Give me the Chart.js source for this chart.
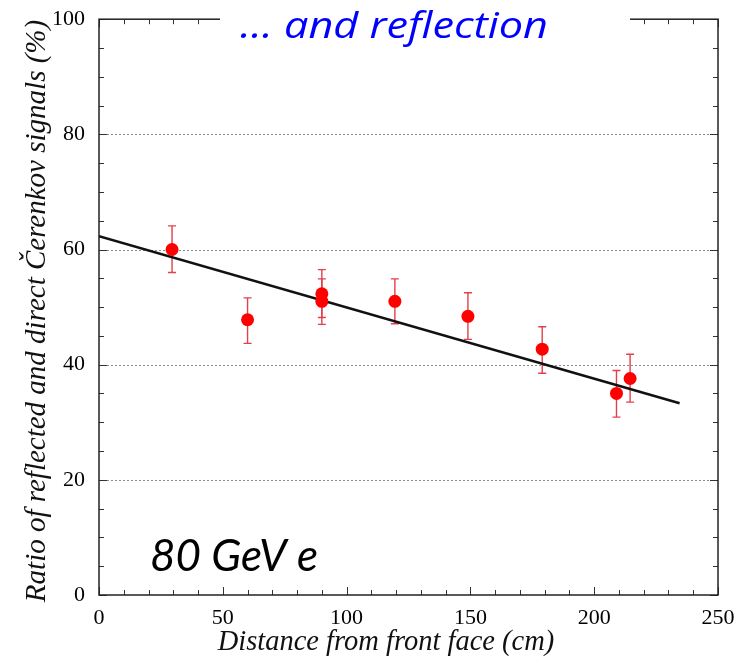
<!DOCTYPE html>
<html>
<head>
<meta charset="utf-8">
<script src="https://cdn.jsdelivr.net/npm/chart.js@4.4.1/dist/chart.umd.min.js"></script>
<style>
  html, body { margin: 0; padding: 0; background: #fff; }
  #wrap { position: relative; width: 742px; height: 663px; }
</style>
</head>
<body>
<div id="wrap"><canvas id="chart"></canvas></div>
<script>
// --- data ---
const distance = [29.5, 60, 90, 90, 119.5, 149, 179, 209, 214.5];
const ratio    = [60.0, 47.8, 52.3, 51.0, 51.0, 48.4, 42.7, 35.0, 37.6];
const errUp    = [4.1, 3.8, 4.2, 3.9, 3.9, 4.1, 3.9, 4.0, 4.2];
const errDown  = [4.0, 4.1, 4.1, 4.0, 3.9, 4.0, 4.2, 4.1, 4.1];
const fitX = [0, 234.5];
const fitY = [62.3, 33.3];
const xTicks = [0, 50, 100, 150, 200, 250];
const yTicks = [0, 20, 40, 60, 80, 100];

const SERIF = '"Liberation Serif", "DejaVu Serif", serif';
const SANS = '"Open Sans", Lato, sans-serif';

// frame, dotted grid, inward ticks, error bars
const framePlugin = {
    id: 'frame',
    beforeDatasetsDraw(chart) {
        const { ctx, chartArea: a, scales: { x, y } } = chart;
        ctx.save();

        // dotted horizontal grid
        ctx.strokeStyle = '#8a8a8a';
        ctx.lineWidth = 1;
        ctx.setLineDash([2, 2]);
        yTicks.forEach(v => {
            if (v === yTicks[0] || v === yTicks[yTicks.length - 1]) return;
            const py = Math.round(y.getPixelForValue(v)) + 0.5;
            ctx.beginPath();
            ctx.moveTo(a.left, py);
            ctx.lineTo(a.right, py);
            ctx.stroke();
        });
        ctx.setLineDash([]);

        // small ticks pointing inside, on all four sides
        ctx.strokeStyle = '#333';
        ctx.lineWidth = 1;
        for (let v = 0; v <= 250; v += 10) {
            const px = Math.round(x.getPixelForValue(v)) + 0.5;
            const len = v % 50 === 0 ? 8 : 5;
            ctx.beginPath();
            ctx.moveTo(px, a.bottom); ctx.lineTo(px, a.bottom - len);
            ctx.moveTo(px, a.top); ctx.lineTo(px, a.top + len);
            ctx.stroke();
        }
        for (let v = 0; v <= 100; v += 5) {
            const py = Math.round(y.getPixelForValue(v)) + 0.5;
            const len = v % 20 === 0 ? 8 : 5;
            ctx.beginPath();
            ctx.moveTo(a.left, py); ctx.lineTo(a.left + len, py);
            ctx.moveTo(a.right, py); ctx.lineTo(a.right - len, py);
            ctx.stroke();
        }

        // box
        ctx.strokeStyle = '#222';
        ctx.lineWidth = 1.5;
        ctx.strokeRect(a.left, a.top, a.width, a.height);

        // error bars
        ctx.strokeStyle = '#e2404c';
        ctx.lineWidth = 1.4;
        distance.forEach((d, i) => {
            const px = x.getPixelForValue(d);
            const top = y.getPixelForValue(ratio[i] + errUp[i]);
            const bot = y.getPixelForValue(ratio[i] - errDown[i]);
            ctx.beginPath();
            ctx.moveTo(px, top); ctx.lineTo(px, bot);
            ctx.moveTo(px - 4, top); ctx.lineTo(px + 4, top);
            ctx.moveTo(px - 4, bot); ctx.lineTo(px + 4, bot);
            ctx.stroke();
        });
        ctx.restore();
    },
    afterDraw(chart) {
        const { ctx } = chart;
        ctx.save();

        // axis titles
        ctx.fillStyle = '#111';
        ctx.textAlign = 'center';
        ctx.textBaseline = 'middle';
        ctx.font = 'italic 28.5px ' + SERIF;
        ctx.fillText('Distance from front face (cm)', 386, 643);
        ctx.font = 'italic 29px ' + SERIF;
        ctx.translate(37, 311);
        ctx.rotate(-Math.PI / 2);
        ctx.fillText('Ratio of reflected and direct \u010Cerenkov signals (%)', 0, 0);
        ctx.setTransform(1, 0, 0, 1, 0, 0);

        // slide title on white patch (the slide text is a bit wider than the font)
        ctx.fillStyle = '#fff';
        ctx.fillRect(220, 0, 410, 48);
        ctx.fillStyle = '#0000ff';
        ctx.font = 'italic 36px ' + SANS;
        ctx.textAlign = 'left';
        ctx.textBaseline = 'alphabetic';
        const title = '\u2026 and reflection';
        const sx = 308 / ctx.measureText(title).width;
        ctx.translate(240, 38);
        ctx.scale(sx, 1);
        ctx.fillText(title, 0, 0);
        ctx.setTransform(1, 0, 0, 1, 0, 0);

        // energy label
        ctx.fillStyle = '#000';
        ctx.font = 'italic 44px Lato, "Open Sans", sans-serif';
        ctx.fillText('80 GeV e', 150, 571);
        ctx.restore();
    }
};

new Chart(document.getElementById('chart'), {
    type: 'scatter',
    data: {
        datasets: [{
            label: 'data',
            data: distance.map((d, i) => ({ x: d, y: ratio[i] })),
            backgroundColor: '#ff0000',
            borderWidth: 0,
            pointRadius: 6.5,
            order: 0
        }, {
            label: 'fit',
            data: fitX.map((d, i) => ({ x: d, y: fitY[i] })),
            showLine: true,
            borderColor: '#111',
            borderWidth: 2.5,
            pointRadius: 0,
            order: 1
        }]
    },
    options: {
        responsive: true,
        maintainAspectRatio: false,
        animation: false,
        layout: { padding: { top: 16, right: 24, left: 0, bottom: 0 } },
        plugins: {
            legend: { display: false },
            tooltip: { enabled: false }
        },
        scales: {
            x: {
                type: 'linear',
                min: 0, max: 250,
                afterFit: (s) => { s.height = 68; },
                afterBuildTicks: (s) => { s.ticks = xTicks.map(v => ({ value: v })); },
                grid: { display: false },
                border: { display: false },
                ticks: { color: '#000', padding: 2, font: { family: SERIF, size: 22 } }
            },
            y: {
                type: 'linear',
                min: 0, max: 100,
                afterFit: (s) => { s.width = 99; },
                afterBuildTicks: (s) => { s.ticks = yTicks.map(v => ({ value: v })); },
                grid: { display: false },
                border: { display: false },
                ticks: { color: '#000', padding: 6, font: { family: SERIF, size: 22 } }
            }
        }
    },
    plugins: [framePlugin]
});
</script>
</body>
</html>
